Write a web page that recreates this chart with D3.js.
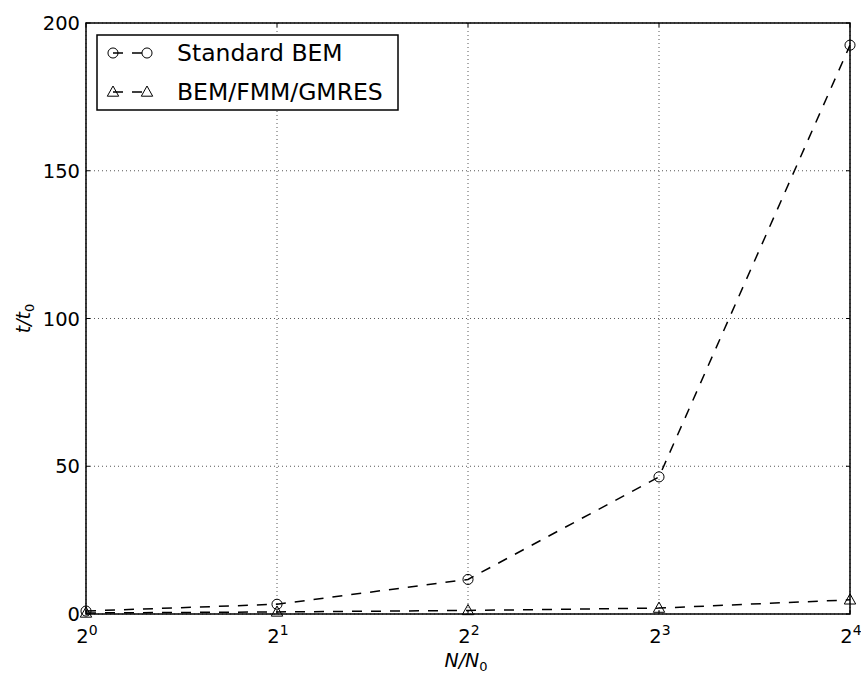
<!DOCTYPE html>
<html>
<head>
<meta charset="utf-8">
<script src="https://cdn.jsdelivr.net/npm/d3@7"></script>
<style>
  html, body { margin: 0; padding: 0; background: #fff; }
  svg { display: block; }
  text { font-family: "DejaVu Sans", sans-serif; fill: #000; }
</style>
</head>
<body>
<svg id="chart" width="861" height="677"></svg>
<script>
// Problem size relative to N0 (powers of two)
const sizes = [1, 2, 4, 8, 16];
const xTickExponents = [0, 1, 2, 3, 4];
const yTicks = [0, 50, 100, 150, 200];

// Run time relative to t0
const standardBEM = [1.0, 3.3, 11.7, 46.4, 192.5];
const fmmGMRES = [0.35, 0.7, 1.2, 2.0, 4.8];

const seriesNames = ["Standard BEM", "BEM/FMM/GMRES"];

const W = 861, H = 677;
const m = { left: 86, right: 11, top: 23, bottom: 63 };
const iw = W - m.left - m.right, ih = H - m.top - m.bottom;

const svg = d3.select("#chart");
const g = svg.append("g").attr("transform", `translate(${m.left},${m.top})`);

const x = d3.scaleLog().base(2).domain([1, 16]).range([0, iw]);
const y = d3.scaleLinear().domain([0, 200]).range([ih, 0]);

// grid
g.append("g").selectAll("line.gx").data(sizes).join("line")
  .attr("x1", d => x(d)).attr("x2", d => x(d)).attr("y1", 0).attr("y2", ih)
  .attr("stroke", "#444").attr("stroke-width", 0.9).attr("stroke-dasharray", "1,3");
g.append("g").selectAll("line.gy").data(yTicks).join("line")
  .attr("y1", d => y(d)).attr("y2", d => y(d)).attr("x1", 0).attr("x2", iw)
  .attr("stroke", "#444").attr("stroke-width", 0.9).attr("stroke-dasharray", "1,3");

// inward tick marks on all four sides
const tickLen = 4;
const tk = g.append("g").attr("stroke", "#000").attr("stroke-width", 1);
sizes.forEach(d => {
  tk.append("line").attr("x1", x(d)).attr("x2", x(d)).attr("y1", ih).attr("y2", ih - tickLen);
  tk.append("line").attr("x1", x(d)).attr("x2", x(d)).attr("y1", 0).attr("y2", tickLen);
});
yTicks.forEach(d => {
  tk.append("line").attr("y1", y(d)).attr("y2", y(d)).attr("x1", 0).attr("x2", tickLen);
  tk.append("line").attr("y1", y(d)).attr("y2", y(d)).attr("x1", iw).attr("x2", iw - tickLen);
});

// series lines
const line = d3.line().x((d, i) => x(sizes[i])).y(d => y(d));

const plot = g.append("g");
[standardBEM, fmmGMRES].forEach(vals => {
  plot.append("path").datum(vals).attr("d", line)
    .attr("fill", "none").attr("stroke", "#000").attr("stroke-width", 1.5)
    .attr("stroke-dasharray", "10,9");
});

const circleSym = d3.symbol().type(d3.symbolCircle).size(80);
const triPath = s => `M0,${-s}L${s * 0.95},${s * 0.7}L${-s * 0.95},${s * 0.7}Z`;

plot.selectAll("path.c").data(standardBEM).join("path")
  .attr("d", circleSym())
  .attr("transform", (d, i) => `translate(${x(sizes[i])},${y(d)})`)
  .attr("fill", "none").attr("stroke", "#000").attr("stroke-width", 1);
plot.selectAll("path.t").data(fmmGMRES).join("path")
  .attr("d", triPath(6))
  .attr("transform", (d, i) => `translate(${x(sizes[i])},${y(d)})`)
  .attr("fill", "none").attr("stroke", "#000").attr("stroke-width", 1);

// frame
g.append("rect").attr("width", iw).attr("height", ih)
  .attr("fill", "none").attr("stroke", "#000").attr("stroke-width", 1.5);

// tick labels
const yl = g.append("g");
yTicks.forEach(d => {
  yl.append("text").attr("x", -6).attr("y", y(d)).attr("dy", "0.36em")
    .attr("text-anchor", "end").style("font-size", "19.5px").text(d);
});
xTickExponents.forEach((e, i) => {
  const t = g.append("text").attr("x", x(sizes[i]) + 1).attr("y", ih + 29)
    .attr("text-anchor", "middle").style("font-size", "19.5px");
  t.append("tspan").text("2");
  t.append("tspan").attr("dy", "-8").style("font-size", "14px").text(e);
});

// axis labels
const xl = svg.append("text").attr("x", m.left + iw / 2 - 2).attr("y", 667)
  .attr("text-anchor", "middle").style("font-size", "19px").style("font-style", "italic");
xl.append("tspan").text("N/N");
xl.append("tspan").attr("dy", 4).style("font-size", "13px").style("font-style", "normal").text("0");

const ylab = svg.append("text")
  .attr("transform", `translate(30,${m.top + ih / 2}) rotate(-90)`)
  .attr("text-anchor", "middle").style("font-size", "19px").style("font-style", "italic");
ylab.append("tspan").text("t/t");
ylab.append("tspan").attr("dy", 4).style("font-size", "13px").style("font-style", "normal").text("0");

// legend
const lg = svg.append("g");
lg.append("rect").attr("x", 97).attr("y", 35).attr("width", 301).attr("height", 75)
  .attr("fill", "#fff").attr("stroke", "#000").attr("stroke-width", 1.5);
const rows = [53, 92];
seriesNames.forEach((name, i) => {
  const ry = rows[i];
  lg.append("path").attr("d", `M113,${ry}L147,${ry}`)
    .attr("stroke", "#000").attr("stroke-width", 1.5).attr("fill", "none")
    .attr("stroke-dasharray", "10,9");
  [113, 147].forEach(mx => {
    lg.append("path").attr("d", i === 0 ? circleSym() : triPath(6))
      .attr("transform", `translate(${mx},${ry})`)
      .attr("fill", "none").attr("stroke", "#000").attr("stroke-width", 1);
  });
  lg.append("text").attr("x", 177).attr("y", ry).attr("dy", "0.36em")
    .style("font-size", "23.5px").text(name);
});
</script>
</body>
</html>
